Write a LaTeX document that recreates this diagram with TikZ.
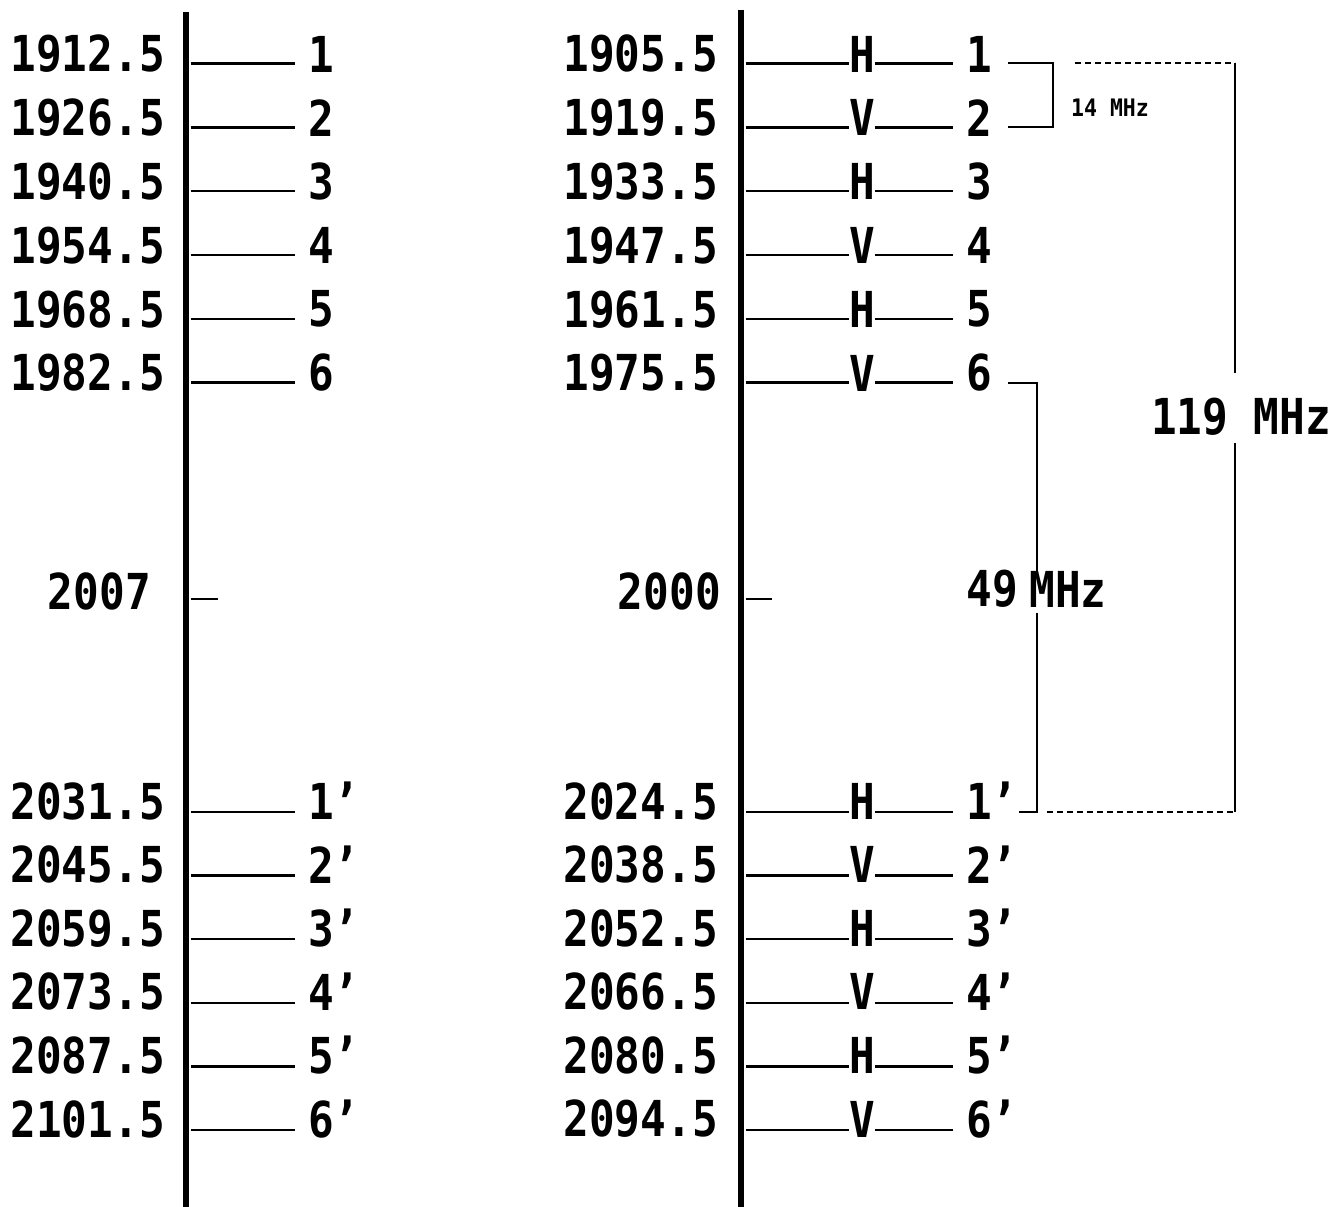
\documentclass[tikz,border=0pt]{standalone}
\usepackage{graphicx}
\usepackage{fontspec}
\newfontfamily\mono{DejaVu Sans Mono}
\newcommand\tall[1]{\scalebox{1}[1.16]{#1}}
\newcommand\tallsm[1]{\scalebox{1}[1.12]{#1}}
\begin{document}
\begin{tikzpicture}[x=1pt,y=-1pt,
  txt/.style={font=\mono\bfseries\fontsize{42.7}{44}\selectfont, inner sep=0pt},
  smalltxt/.style={font=\mono\bfseries\fontsize{21.5}{23}\selectfont, inner sep=0pt},
  num/.style={txt, anchor=west, inner xsep=13pt, inner ysep=0pt},
  freq/.style={txt, anchor=east},
  pol/.style={txt},
  tickline/.style={line width=2.4pt},
  axisline/.style={line width=6pt},
  brack/.style={line width=2pt},
  dashline/.style={line width=2pt, dash pattern=on 6pt off 4pt},
]
\useasboundingbox (0,0) rectangle (1334,1207);
% axes
\coordinate (LaxT) at (186,12); \coordinate (LaxB) at (186,1207);
\coordinate (RaxT) at (741,10); \coordinate (RaxB) at (741,1207);
\draw[axisline] (LaxT) -- (LaxB);
\draw[axisline] (RaxT) -- (RaxB);
% top rows
\foreach \i/\lf/\rf/\p in {1/1912.5/1905.5/H, 2/1926.5/1919.5/V, 3/1940.5/1933.5/H, 4/1954.5/1947.5/V, 5/1968.5/1961.5/H, 6/1982.5/1975.5/V} {
  \pgfmathsetmacro\tc{54+(\i-1)*63.8}
  \pgfmathsetmacro\ly{\tc+9.5}
  \coordinate (la\i) at (191,\ly);
  \coordinate (ra\i) at (746,\ly);
  \node[freq] (lf\i) at (165,\tc) {\tall{\lf}};
  \node[num] (ln\i) at (295,\tc) {\tall{\i}};
  \draw[tickline] (la\i) -- (ln\i.west |- la\i);
  \node[freq] (rf\i) at (718,\tc) {\tall{\rf}};
  \node[pol] (rp\i) at (862,\tc) {\tall{\p}};
  \node[num] (rn\i) at (953,\tc) {\tall{\i}};
  \draw[tickline] (ra\i) -- (rp\i.west |- ra\i);
  \draw[tickline] (rp\i.east |- ra\i) -- (rn\i.west |- ra\i);
}
% bottom rows
\foreach \i/\lf/\rf/\p in {1/2031.5/2024.5/H, 2/2045.5/2038.5/V, 3/2059.5/2052.5/H, 4/2073.5/2066.5/V, 5/2087.5/2080.5/H, 6/2101.5/2094.5/V} {
  \pgfmathsetmacro\tc{801+(\i-1)*63.6}
  \pgfmathsetmacro\ly{\tc+11}
  \coordinate (lb\i) at (191,\ly);
  \coordinate (rb\i) at (746,\ly);
  \node[freq] (lbf\i) at (165,\tc) {\tall{\lf}};
  \node[num] (lbn\i) at (295,\tc) {\tall{\i’}};
  \draw[tickline] (lb\i) -- (lbn\i.west |- lb\i);
  \node[freq] (rbf\i) at (718,\tc) {\tall{\rf}};
  \node[pol] (rbp\i) at (862,\tc) {\tall{\p}};
  \node[num] (rbn\i) at (953,\tc) {\tall{\i’}};
  \draw[tickline] (rb\i) -- (rbp\i.west |- rb\i);
  \draw[tickline] (rbp\i.east |- rb\i) -- (rbn\i.west |- rb\i);
}
% centre frequencies
\node[freq] (lmid) at (151,591) {\tall{2007}};
\coordinate (lm0) at (191,599); \coordinate (lm1) at (218,599);
\draw[tickline] (lm0) -- (lm1);
\node[freq] (rmid) at (721,591) {\tall{2000}};
\coordinate (rm0) at (746,599); \coordinate (rm1) at (772,599);
\draw[tickline] (rm0) -- (rm1);
% 14 MHz bracket
\coordinate (b14) at (1053,0);
\draw[brack] ([xshift=3pt]rn1.east |- ra1) -| (b14 |- ra2) -- ([xshift=3pt]rn2.east |- ra2);
\node[smalltxt] (l14) at (1110,108) {\tallsm{14 MHz}};
% 119 MHz bracket
\coordinate (b119) at (1235,0);
\node[txt] (l119) at (1241,417) {\tall{119 MHz}};
\draw[dashline] ([xshift=22pt]b14 |- ra1) -- (b119 |- ra1);
\draw[brack, shorten >=25pt] (b119 |- ra1) -- (b119 |- l119.north);
\draw[brack, shorten <=7pt] (b119 |- l119.south) -- (b119 |- rb1);
% 49 MHz bracket
\coordinate (b49) at (1037,0);
\node[txt] (l49a) at (992,589) {\tall{49}};
\node[txt] (l49m) at (1068,589) {\tall{MHz}};
\draw[brack] ([xshift=3pt]rn6.east |- ra6) -| (b49 |- l49m.north);
\draw[brack, shorten <=6pt] (b49 |- l49m.south) |- ([xshift=-12pt]rbn1.east |- rb1);
\draw[dashline] ([xshift=10pt]b49 |- rb1) -- (b119 |- rb1);
\end{tikzpicture}
\end{document}
